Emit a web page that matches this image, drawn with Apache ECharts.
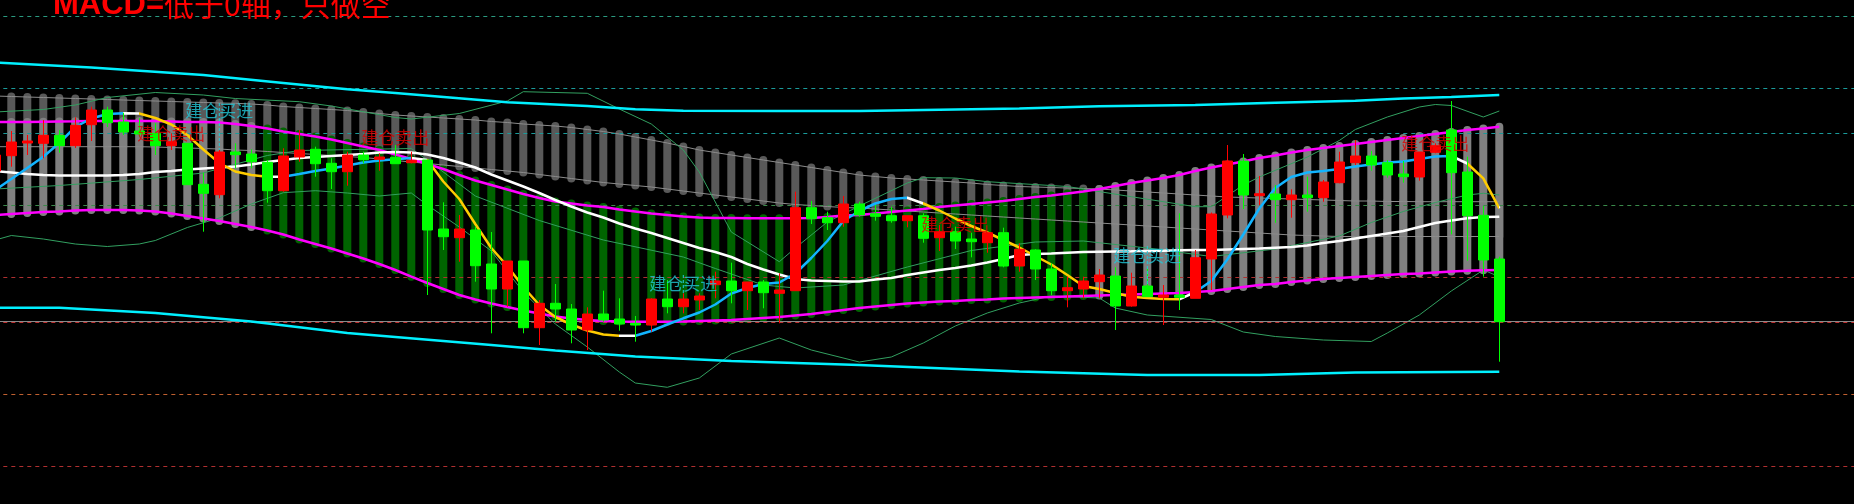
<!DOCTYPE html>
<html><head><meta charset="utf-8">
<script src="https://cdn.jsdelivr.net/npm/echarts/dist/echarts.min.js"></script>
<style>html,body{margin:0;padding:0;background:#000;overflow:hidden}#c{width:1854px;height:504px}</style>
</head><body><div id="c"></div><script>
// ---------- DATA (prices) ----------
// candles: [open, close, low, high]
const candles = [
[1829,1845,1828,1850],[1844.3,1858,1833.3,1869],[1857,1859,1845,1865],[1856.7,1864.7,1841.7,1880],[1864.7,1854.3,1847.3,1870],
[1854.3,1874.7,1852,1882.7],[1875.3,1890,1859,1893.3],[1890,1877.3,1873,1893.3],[1878,1868,1865,1887.3],[1869,1866,1863.3,1881.7],
[1866.7,1854.3,1845,1876.7],[1854.3,1858.3,1850,1866.7],[1856.7,1815.3,1815.3,1856.7],[1815.7,1806.7,1768.3,1827.3],[1805.3,1848,1801.7,1851],
[1848,1845.3,1831.7,1856.7],[1846,1838.3,1831.7,1850.7],[1837.7,1809.3,1797.3,1840],[1809.3,1844,1808.3,1851.7],[1843,1850,1838.3,1870],
[1850.7,1836.3,1823.3,1853.3],[1836.7,1828.3,1811,1841.7],[1828.3,1845,1814.3,1848.3],[1845,1840.3,1836.7,1848.3],[1840.7,1843,1829.3,1846.7],
[1842.7,1836.3,1836,1855],[1837.3,1839.7,1836.7,1848.3],[1840,1770,1705,1840],[1771,1763.3,1750,1797.7],[1762.3,1771,1738.3,1785],
[1770,1734.3,1718.3,1773.3],[1736,1711,1666.7,1768],[1711,1739,1693.3,1739],[1739,1672.3,1666.7,1739],[1672.3,1696.7,1655,1700],
[1696.7,1691,1678.3,1716],[1691,1670,1656.7,1696],[1670,1686,1650,1692.7],[1686,1680,1678.3,1709.3],[1681,1676,1669.3,1701.7],
[1676.7,1675,1658.3,1684],[1675,1701,1668.3,1701.7],[1701,1693.3,1686.7,1720],[1693.3,1701,1686.7,1706.7],[1700,1704,1690,1706.7],
[1715.3,1719,1701.7,1728.3],[1719,1709.3,1696.7,1737.3],[1709.3,1718,1690,1718],[1718,1707.3,1691.7,1720],[1706.7,1710,1676.7,1726.7],
[1709.3,1792.3,1709.3,1808.3],[1792.3,1781.3,1776,1799],[1782.3,1777.3,1770,1788.3],[1777.3,1796,1773.3,1804],[1796,1785,1783.3,1798.3],
[1786.3,1783.7,1779.3,1795],[1784.3,1779.3,1777.3,1793.3],[1779.3,1784.3,1772.7,1784.3],[1784.3,1761.7,1757.3,1786.7],[1762.3,1768.3,1749,1775],
[1768.3,1759,1751,1773.3],[1761,1758.3,1742.7,1767.3],[1757.3,1767.3,1747.3,1767.3],[1767.3,1734,1732.7,1772.3],[1734,1750.7,1728.3,1756.7],
[1750,1731,1720,1750.7],[1731,1709.3,1705,1736.7],[1709.3,1712.3,1692.7,1723.3],[1711,1719,1701.7,1723.3],[1718.3,1725,1701.7,1731],
[1724,1694,1670,1732.7],[1694,1714,1693.3,1727.3],[1714,1703.3,1703.3,1731.7],[1702.7,1705,1675,1715],[1705,1702.7,1690,1786.7],
[1701.7,1742.3,1701.7,1750],[1741,1786,1710,1787.5],[1785,1839,1781.7,1855],[1839,1805,1791,1846],[1804.3,1806.3,1795,1824],
[1806,1800.3,1777.3,1815],[1800.3,1805,1782.3,1810.7],[1805,1802.3,1788.3,1823.3],[1802.3,1818,1798.3,1820],[1817.3,1838,1816.7,1848.3],
[1837.3,1844,1835,1860],[1844,1835,1829.3,1849],[1837.3,1825,1822.3,1840],[1826,1823.3,1817.3,1839],[1823,1848,1819.3,1848],
[1847.7,1854.3,1846.7,1856.7],[1870,1827.3,1765.7,1899],[1828,1784.3,1739.3,1843.3],[1784.7,1740,1723.3,1794],[1741,1678.3,1638.3,1743.3]
];
// trend band (magenta edges)
const bandUpper = [
1878,1878,1878,1878.3,1878.5,1878.7,1879,1879,1879,1879,1879,
1878.5,1878,1878,1877.5,1876,1874,1871.5,1868.5,1866,1863.5,
1860.5,1857,1853.5,1850,1845.5,1841,1836,1831,1825,1819.5,
1815,1810.5,1806,1802,1798.5,1796.5,1794.5,1793,1790.5,1788.5,
1786.5,1785,1783.5,1782.5,1782,1782,1781.7,1781.7,1781.7,1781.7,
1782,1783,1784.5,1785,1786.5,1788,1789.5,1791,1793,1794.5,
1796,1797.5,1799,1801,1803,1804.5,1806.5,1808.5,1811,1814,
1817,1819.5,1822,1825,1829,1832.5,1835.5,1838.5,1842,1844.5,
1847.5,1850,1852,1854,1856,1858,1860,1862,1864,1866,
1868,1870,1871.5,1873.3];
const bandLower = [
1785,1786,1787,1788,1788.5,1789.5,1790,1790,1790,1789.5,1788.5,
1786.5,1784,1781.5,1779,1776,1773,1769.5,1765.5,1760.5,1756,
1751.5,1746.5,1741.5,1736,1730,1723.3,1717,1711,1705,1700.5,
1696.5,1693,1689.5,1686.5,1683.5,1681.5,1680,1679,1678.5,1678.3,
1678.3,1678.3,1678.5,1679,1679.5,1680,1681,1682,1683,1684.5,
1686,1688,1690,1692,1693.5,1695,1696.5,1697.5,1698.5,1699,
1700,1700.5,1701.5,1702,1702.5,1703,1703.5,1704,1704.5,1705,
1705.5,1706,1706.5,1707,1708,1709,1711,1713,1715,1716,
1718,1719.5,1721,1722,1723,1724,1725,1726,1726.5,1727.5,
1728.5,1729.3,1729.7,1730];
// band colour runs: [state, firstIndex, lastIndex]
const bandTrend = [['flat',0,16],['down',17,68],['flat',69,94]];
// dark channel (thin grey edges)
const channelUpper = [
1904,1903.5,1903,1902.5,1902,1901.5,1901,1900.5,1900,1899.5,1899,
1898.5,1898,1897.5,1897,1896.7,1896,1895,1893.5,1892.5,1891.5,
1890.5,1889.5,1888,1886.5,1885,1884,1883,1882,1881,1880,
1878.5,1877.5,1876,1875,1874,1872.5,1870.5,1868.5,1866,1863,
1860,1857,1853.5,1850,1847.5,1845,1842.5,1840,1837.5,1835,
1832.5,1830,1827.5,1825,1823.5,1822,1821,1820,1819,1818,
1817,1815.5,1814.5,1813.5,1813,1812.5,1812,1811.5,1811,1810,
1809,1808,1807,1806,1805,1804,1803,1802.5,1802,1801.5,
1801,1800.5,1800,1799.5,1799,1799,1798.5,1798.5,1798.3,1798.3,
1798.3,1798.3,1798.3,1798.3];
const channelLower = [
1853.3,1853.3,1853.3,1853.3,1853.3,1853.3,1853.3,1853.3,1853.3,1853.3,1853,
1852.5,1852,1851.5,1851,1850,1849.5,1848.5,1847.5,1846.5,1845.5,
1844.5,1843.5,1842.5,1841,1839.5,1838,1836.5,1835,1833.5,1832,
1830.5,1829,1827.5,1825.5,1823.5,1821.5,1819.5,1817.5,1816,1814.5,
1813,1811,1809,1807,1805,1803,1801,1799,1797,1795.5,
1794.5,1793.5,1792.5,1792,1791,1790,1789,1788,1787,1786,
1785,1784,1783,1782,1781,1780,1779,1778,1777,1776,
1775,1774,1773,1772,1771,1770,1769,1768,1767,1766,
1765,1764.5,1764,1763.5,1763.5,1763.5,1763.5,1763.5,1763.5,1763.5,
1763.5,1763.5,1763.5,1763.5];
const slowMA = [
1829,1827.5,1826,1825,1824.5,1824.5,1824.5,1824.5,1825,1826,1828,
1829,1830.5,1831.5,1832.5,1833.5,1835.5,1838,1840,1842,1843,
1844,1845,1846,1847.5,1848,1847.5,1845.5,1842,1837.5,1832.5,
1825.5,1819.5,1813.5,1807,1800,1793.5,1787.5,1782.5,1776.5,1771.5,
1767,1762,1757,1752,1748,1743,1736,1730.5,1725.5,1721,
1719.5,1719,1718.5,1718.5,1720.5,1722,1725,1727.5,1730,1732,
1734.5,1737.5,1741,1745,1746,1746.5,1747.3,1748,1748.3,1748.5,
1748.7,1749,1749.3,1749.7,1750,1750,1750.5,1751,1751.5,1752.3,
1753,1754.5,1757,1759,1761.5,1764,1766.5,1769,1773,1777,
1779.5,1781.7,1783,1783.3];
const fastMA = [
1810,1821,1832,1843.3,1857,1873,1881.5,1886,1886.7,1886.5,1882,
1875.5,1865,1850.5,1837,1828.5,1825,1823.3,1823.3,1826,1829,
1831.5,1834.5,1837.5,1839.5,1840.7,1842,1840,1818.5,1801,1776,
1752,1734,1713,1695,1683,1675.5,1669.5,1665.5,1664.3,1664.3,
1669,1675.5,1681.7,1687.5,1695.5,1706.5,1712,1716,1717.5,1726.5,
1742,1759,1779,1789,1796.5,1801,1802.3,1796.5,1789.5,1781.5,
1774,1767.5,1760,1752.5,1744,1735.5,1725,1714,1711,1707,
1703.3,1702,1701,1700.7,1708,1719,1740.5,1765.5,1791.5,1812,
1823,1827.5,1829,1831,1833.5,1835.5,1837.5,1838.5,1841,1843.5,
1844,1836.5,1821.7,1791.7];
// colour runs of the fast line: [trend, fromIndex, toIndex]
const fastTrend = [['up',0,8],['flat',8,9],['down',9,17],['flat',17,18],['up',18,26],['flat',26,27],
['down',27,39],['flat',39,40],['up',40,57],['flat',57,58],['down',58,74],['flat',74,75],['up',75,91],['flat',91,92],['down',92,94]];
// envelope lines, [index, price]
const cyanUpper = [[0,1937.5],[6,1932.5],[13,1925],[18,1917],[22,1910.7],[25,1907],[32,1897.7],[37,1894],[40,1890.8],[43,1889.3],[49,1889],[54,1889],[58,1890],[64,1891.6],[69,1893.7],[75,1895],[80,1897.3],[85,1899.3],[88,1901.6],[91,1903],[94,1905]];
const cyanLower = [[0,1692.3],[4,1692.3],[10,1687],[16,1678.5],[22,1667],[28,1659],[31,1655],[35,1649.5],[40,1643.5],[46,1639],[54,1635],[64,1628.5],[72,1625],[79,1625],[85,1627.5],[94,1628.3]];
const bbUpper = [[0,1888],[3,1890.5],[5,1895],[7,1902.5],[10,1907.5],[13,1905],[15,1901.5],[19,1898.3],[21,1894],[25,1882.5],[26,1881],[29,1886.5],[32,1899],[33,1908.3],[37,1906.7],[39,1891],[41,1876],[43,1850],[44,1828],[46,1768],[49,1738.3],[50,1752],[52,1778],[54,1794],[57,1817],[58,1822.3],[60,1822],[62,1818.3],[67,1813.5],[71,1803.3],[75,1793.3],[76,1793.3],[78,1815],[79,1823],[82,1843],[84,1859.5],[85,1870.5],[87,1883],[89,1893],[90,1895.5],[91,1894.5],[93,1883],[94,1889]];
const bbMid = [[0,1811],[4,1814.5],[9,1820.5],[13,1827],[17,1844.5],[19,1849.5],[26,1851.5],[27,1840],[30,1804],[34,1779.5],[38,1760],[43,1743],[45,1731.5],[48,1715],[50,1712],[53,1715],[57,1733],[61,1749.5],[65,1758],[68,1759],[72,1752],[76,1743.5],[80,1751],[84,1764],[86,1777.5],[88,1788.5],[90,1797.5],[92,1805],[93,1806.7],[94,1805]];
const bbLower = [[0,1760],[1,1764.5],[3,1761],[5,1756],[7,1753.5],[9,1756],[10,1759.5],[12,1772.5],[14,1782],[16,1796],[18,1807.3],[20,1809.3],[22,1807],[24,1804],[26,1807],[27,1795],[29,1773],[31,1749],[33,1708],[35,1676],[37,1653],[39,1628],[40,1617],[42,1612.7],[44,1622],[46,1646],[49,1662],[51,1650],[54,1638],[56,1643],[58,1657],[60,1674],[62,1687],[64,1697],[66,1704],[69,1702],[70,1692],[72,1685],[76,1680.5],[78,1668],[80,1663.5],[83,1660],[86,1658.5],[87,1667],[89,1685],[91,1709],[93,1730],[94,1723.3]];
// horizontal reference levels
const levels = [1984, 1912, 1867, 1795, 1722.7, 1677.7, 1606, 1534];
const baseLevels = [1678.7];
// signals
const signals = [
  {k:14, price:1889, text:'建仓买进', side:'buy', from:1897, to:1850},
  {k:11, price:1866.7, text:'建仓卖出', side:'sell'},
  {k:25, price:1862, text:'建仓卖出', side:'sell'},
  {k:43, price:1716.7, text:'建仓买进', side:'buy', from:1725, to:1707},
  {k:60, price:1775.5, text:'建仓卖出', side:'sell'},
  {k:72, price:1744, text:'建仓买进', side:'buy', from:1754, to:1715},
  {k:90, price:1856, text:'建仓卖出', side:'sell'}
];
const titleParts = ['MACD=', '低于0轴，只做空'];

// ---------- STYLE ----------
const TOTAL_SLOTS = 117;
const levelColors = ['#2a9a80','#1a9a9a','#1a9a9a','#3a8a4a','#b03030','#c03030','#c06030','#b03030'];
const trendColor = {up:'#12b4ff', down:'#ffcc00', flat:'#ffffff'};
const bandColor = {flat:'#808080', down:'#006400'};
const signalColor = {buy:'#22c8d8', sell:'#e00000'};

const cats = Array.from({length: TOTAL_SLOTS}, (_, i) => String(i));
function bandStateAt(k){ for (const [s,a,b] of bandTrend) if (k>=a && k<=b) return s; return 'flat'; }

function barRenderer(colorFn){
  return function(params, api){
    const k = api.value(0);
    const a = api.coord([k, api.value(1)]);
    const b = api.coord([k, api.value(2)]);
    const top = Math.min(a[1], b[1]) - 4;
    const bot = Math.max(a[1], b[1]) + 4;
    return {type:'rect', shape:{x:a[0]-4, y:top, width:8, height:bot-top, r:4}, style:{fill: colorFn(k)}};
  };
}
function thin(name, data, color, z){
  return {name, type:'line', data, symbol:'none', silent:true, z, lineStyle:{color, width:1}, animation:false};
}

const series = [];
series.push({type:'line', data:[], z:3, silent:true, markLine:{silent:true, symbol:'none', animation:false,
  label:{show:false},
  data: levels.map((v,i)=>({yAxis:v, lineStyle:{color:levelColors[i], type:[4,4], width:1}}))
    .concat(baseLevels.map(v=>({yAxis:v, lineStyle:{color:'#8a8a8a', type:'solid', width:1}})))}});
series.push({type:'custom', z:1, silent:true, animation:false, renderItem: barRenderer(()=>'#595959'),
  encode:{x:0, y:[1,2]}, data: channelUpper.map((u,i)=>[i, channelLower[i], u])});
series.push({type:'custom', z:2, silent:true, animation:false, renderItem: barRenderer(k=>bandColor[bandStateAt(k)]),
  encode:{x:0, y:[1,2]}, data: bandUpper.map((u,i)=>[i, bandLower[i], u])});
series.push(thin('chU', channelUpper, '#8c8c8c', 4));
series.push(thin('chL', channelLower, '#8c8c8c', 4));
series.push(thin('bbU', bbUpper, '#32a060', 4));
series.push(thin('bbM', bbMid, '#32a060', 4));
series.push(thin('bbL', bbLower, '#32a060', 4));
series.push({type:'line', data:bandUpper, symbol:'none', z:5, silent:true, animation:false, lineStyle:{color:'#ff00ff', width:2.5}});
series.push({type:'line', data:bandLower, symbol:'none', z:5, silent:true, animation:false, lineStyle:{color:'#ff00ff', width:2.5}});
series.push({type:'line', data:cyanUpper, symbol:'none', z:5, silent:true, animation:false, lineStyle:{color:'#00f0ff', width:2.5}});
series.push({type:'line', data:cyanLower, symbol:'none', z:5, silent:true, animation:false, lineStyle:{color:'#00f0ff', width:2.5}});
series.push({type:'line', data:slowMA, symbol:'none', z:6, silent:true, animation:false, lineStyle:{color:'#ffffff', width:2.5}});
const fastIdx = series.length;
series.push({type:'line', data:fastMA, symbol:'none', z:6, silent:true, animation:false, lineStyle:{width:2.5}});
series.push({type:'candlestick', data:candles, z:7, barWidth:10, silent:true, animation:false,
  itemStyle:{color:'#ff0000', color0:'#00ff00', borderColor:'#ff0000', borderColor0:'#00ff00', borderWidth:1}});
signals.filter(s=>s.from!==undefined).forEach(s=>{
  series.push({type:'line', data:[[s.k, s.from],[s.k, s.to]], symbol:'none', z:8, silent:true, animation:false,
    lineStyle:{color:signalColor[s.side], width:1, type:[3,2]}});
});
series.push({type:'scatter', z:9, silent:true, animation:false, symbolSize:0,
  data: signals.map(s=>({value:[s.k, s.price], label:{formatter:s.text, color:signalColor[s.side]}})),
  label:{show:true, position:'inside', fontSize:17, fontFamily:'Noto Sans CJK SC', fontWeight:'normal'}});

const pieces = fastTrend.map(([t,a,b],i)=> i===0 ? {gte:a, lte:b, color:trendColor[t]} : {gt:a, lte:b, color:trendColor[t]});

const chart = echarts.init(document.getElementById('c'), null, {renderer:'canvas'});
chart.setOption({
  backgroundColor:'#000000',
  animation:false,
  title:{text:'{a|'+titleParts[0]+'}{b|'+titleParts[1]+'}', left:53, top:-12, padding:0,
    textStyle:{rich:{
      a:{fontFamily:'Liberation Sans', fontWeight:'bold', fontSize:31, color:'#ff0000', lineHeight:34},
      b:{fontFamily:'Noto Sans CJK SC', fontWeight:'normal', fontSize:30, color:'#ff0000', lineHeight:34}}}},
  grid:{left:-12.7, top:0, width:16*TOTAL_SLOTS, height:504, containLabel:false, outerBoundsMode:'none'},
  xAxis:{type:'category', data:cats, boundaryGap:true, show:false},
  yAxis:{type:'value', min:1496, max:2000, show:false, splitLine:{show:false}},
  visualMap:[{type:'piecewise', show:false, dimension:0, seriesIndex:fastIdx, pieces, outOfRange:{color:'#ffffff'}}],
  series
});
</script></body></html>
